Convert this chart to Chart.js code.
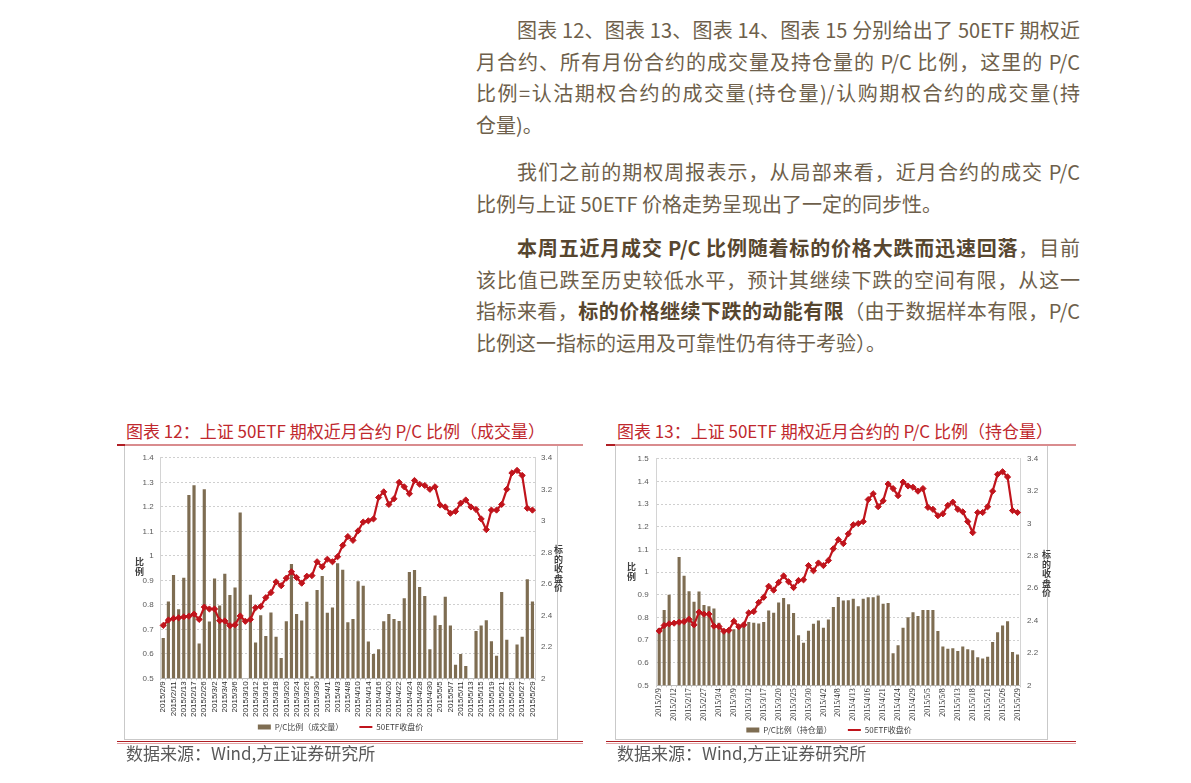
<!DOCTYPE html>
<html>
<head>
<meta charset="utf-8">
<script src="https://cdn.jsdelivr.net/npm/chart.js@4.4.1/dist/chart.umd.min.js"></script>
<style>
  body { margin: 0; background: #fff; width: 1191px; height: 783px; position: relative; overflow: hidden; font-family: "Noto Sans CJK SC", sans-serif; }
  .para { position: absolute; left: 476px; width: 604px; font-size: 20px; line-height: 31.5px; color: #6e5f4b; }
  .ln { text-align: justify; text-align-last: justify; }
  .ln.first { padding-left: 41px; }
  .ln.last { text-align-last: left; }
  .para b { color: #57462f; font-weight: 700; }
  .title { position: absolute; font-size: 17px; color: #c0282d; line-height: 20px; white-space: nowrap; }
  .src { position: absolute; font-size: 17px; color: #595959; line-height: 20px; white-space: nowrap; }
  .hline { position: absolute; height: 1px; }
  .frame { position: absolute; border: 1px solid #c9c9c9; box-sizing: border-box; }
  canvas { position: absolute; }
  .ytitle { position: absolute; width: 9px; font-size: 9px; line-height: 9.5px; font-weight: 700; color: #404040; word-break: break-all; }
</style>
</head>
<body>

<div class="para" style="top:14px">
  <div class="ln first">图表 12、图表 13、图表 14、图表 15 分别给出了 50ETF 期权近</div>
  <div class="ln">月合约、所有月份合约的成交量及持仓量的 P/C 比例，这里的 P/C</div>
  <div class="ln">比例=认沽期权合约的成交量(持仓量)/认购期权合约的成交量(持</div>
  <div class="ln last">仓量)。</div>
</div>
<div class="para" style="top:156px">
  <div class="ln first">我们之前的期权周报表示，从局部来看，近月合约的成交 P/C</div>
  <div class="ln last">比例与上证 50ETF 价格走势呈现出了一定的同步性。</div>
</div>
<div class="para" style="top:232px">
  <div class="ln first"><b>本周五近月成交 P/C 比例随着标的价格大跌而迅速回落</b>，目前</div>
  <div class="ln">该比值已跌至历史较低水平，预计其继续下跌的空间有限，从这一</div>
  <div class="ln">指标来看，<b>标的价格继续下跌的动能有限</b>（由于数据样本有限，P/C</div>
  <div class="ln last">比例这一指标的运用及可靠性仍有待于考验）。</div>
</div>

<div class="title" style="left:126px;top:421px">图表 12：上证 50ETF 期权近月合约 P/C 比例（成交量）</div>
<div class="title" style="left:617px;top:421px">图表 13：上证 50ETF 期权近月合约的 P/C 比例（持仓量）</div>

<div class="frame" style="left:124px;top:445px;width:434px;height:295px"></div>
<div class="frame" style="left:615px;top:445px;width:433px;height:295px"></div>

<div class="hline" style="left:117px;top:444px;width:466px;height:2px;background:#d98c8e"></div>
<div class="hline" style="left:117px;top:444px;width:8px;height:2px;background:#b01e24"></div>
<div class="hline" style="left:606px;top:444px;width:470px;height:2px;background:#d98c8e"></div>
<div class="hline" style="left:606px;top:444px;width:9px;height:2px;background:#b01e24"></div>

<canvas id="chart12" width="431" height="295" style="left:125px;top:446px"></canvas>
<canvas id="chart13" width="434" height="298" style="left:612px;top:446px"></canvas>

<div class="ytitle" style="left:135px;top:557px">比例</div>
<div class="ytitle" style="left:554px;top:545px">标的收盘价</div>
<div class="ytitle" style="left:627px;top:562px">比例</div>
<div class="ytitle" style="left:1042px;top:550px">标的收盘价</div>

<div class="hline" style="left:117px;top:741px;width:466px;background:#b01e24"></div>
<div class="hline" style="left:117px;top:743px;width:466px;background:#e3a5a7"></div>
<div class="hline" style="left:606px;top:741px;width:470px;background:#b01e24"></div>
<div class="hline" style="left:606px;top:743px;width:470px;background:#e3a5a7"></div>

<div class="src" style="left:126px;top:743px">数据来源：Wind,方正证券研究所</div>
<div class="src" style="left:617px;top:743px">数据来源：Wind,方正证券研究所</div>

<script>
const dates = [
  "2015/2/9", "2015/2/10", "2015/2/11", "2015/2/12", "2015/2/13", "2015/2/16", "2015/2/17",
  "2015/2/25", "2015/2/26", "2015/2/27",
  "2015/3/2", "2015/3/3", "2015/3/4", "2015/3/5", "2015/3/6", "2015/3/9", "2015/3/10",
  "2015/3/11", "2015/3/12", "2015/3/13", "2015/3/16", "2015/3/17", "2015/3/18", "2015/3/19",
  "2015/3/20", "2015/3/23", "2015/3/24", "2015/3/25", "2015/3/26", "2015/3/27", "2015/3/30",
  "2015/3/31",
  "2015/4/1", "2015/4/2", "2015/4/3", "2015/4/7", "2015/4/8", "2015/4/9", "2015/4/10",
  "2015/4/13", "2015/4/14", "2015/4/15", "2015/4/16", "2015/4/17", "2015/4/20", "2015/4/21",
  "2015/4/22", "2015/4/23", "2015/4/24", "2015/4/27", "2015/4/28", "2015/4/29", "2015/4/30",
  "2015/5/4", "2015/5/5", "2015/5/6", "2015/5/7", "2015/5/8", "2015/5/11", "2015/5/12",
  "2015/5/13", "2015/5/14", "2015/5/15", "2015/5/18", "2015/5/19", "2015/5/20", "2015/5/21",
  "2015/5/22", "2015/5/25", "2015/5/26", "2015/5/27", "2015/5/28", "2015/5/29"
];

// 50ETF close (right axis)
const closes = [
  2.336, 2.37, 2.38, 2.384, 2.39, 2.394, 2.408, 2.374, 2.452, 2.44,
  2.44, 2.366, 2.364, 2.334, 2.34, 2.396, 2.362, 2.374, 2.448, 2.456,
  2.512, 2.544, 2.612, 2.588, 2.636, 2.676, 2.64, 2.604, 2.648, 2.652,
  2.74, 2.708, 2.756, 2.74, 2.772, 2.844, 2.9, 2.876, 2.936, 2.992,
  3.0, 3.012, 3.148, 3.184, 3.104, 3.14, 3.244, 3.216, 3.172, 3.256,
  3.232, 3.224, 3.2, 3.216, 3.1, 3.088, 3.048, 3.06, 3.112, 3.132,
  3.088, 3.072, 3.012, 2.944, 3.068, 3.068, 3.104, 3.2, 3.304, 3.32,
  3.288, 3.08, 3.068
];

// P/C ratio, near-month volume
const pcVolume = [
  0.665, 0.813, 0.922, 0.782, 0.91, 1.248, 1.288, 0.642, 1.272, 0.732,
  0.907, 0.797, 0.927, 0.84, 0.871, 1.177, null, 0.841, 0.646, 0.757,
  0.673, 0.769, 0.67, 0.583, 0.733, 0.967, 0.762, 0.736, 0.812, 0.508,
  0.86, 0.918, 0.768, 0.789, 0.97, 0.943, 0.729, 0.742, 0.896, 0.878,
  0.65, 0.599, 0.619, 0.733, 0.762, 0.742, 0.734, 0.827, 0.934, 0.942,
  0.873, 0.836, 0.619, 0.756, 0.718, 0.833, 0.716, 0.555, 0.599, 0.55,
  null, 0.693, 0.716, 0.737, 0.651, 0.592, 0.852, 0.657, null, 0.638,
  0.67, 0.904, 0.813
];

// P/C ratio, near-month open interest
const pcOpenInt = [
  0.753, 0.833, 0.9, null, 1.066, 0.984, 0.915, 0.869, 0.914, 0.855,
  0.849, 0.839, 0.776, 0.747, 0.74, 0.747, 0.754, 0.776, 0.78, 0.776,
  0.773, 0.779, 0.83, 0.82, 0.866, 0.885, 0.858, 0.819, 0.721, 0.688,
  0.741, 0.772, 0.786, 0.754, 0.79, 0.846, 0.89, 0.874, 0.876, 0.882,
  0.849, 0.882, 0.889, 0.889, 0.897, 0.86, 0.863, 0.641, 0.677, 0.754,
  0.8, 0.823, 0.806, 0.832, 0.832, 0.832, 0.74, 0.671, 0.661, 0.664,
  0.651, 0.671, 0.659, 0.655, 0.624, 0.618, 0.626, 0.691, 0.734, 0.764,
  0.783, 0.647, 0.636
];

const BAR_COLOR = "#7e6d52";
const LINE_COLOR = "#c0141c";

function buildChart(id, cfg) {
  return new Chart(document.getElementById(id), {
    data: {
      labels: dates,
      datasets: [
        {
          type: "bar",
          label: cfg.barLabel,
          data: cfg.bars,
          yAxisID: "y",
          backgroundColor: BAR_COLOR,
          barPercentage: 0.62,
          categoryPercentage: 1,
          order: 2,
        },
        {
          type: "line",
          label: "50ETF收盘价",
          data: closes,
          yAxisID: "y1",
          borderColor: LINE_COLOR,
          backgroundColor: LINE_COLOR,
          borderWidth: 2.2,
          pointStyle: "rectRot",
          pointRadius: 3.1,
          pointBorderWidth: 1,
          tension: 0,
          order: 1,
        },
      ],
    },
    options: {
      responsive: false,
      animation: false,
      layout: { padding: { top: cfg.padTop, left: 0, right: 0, bottom: 0 } },
      plugins: {
        tooltip: { enabled: false },
        legend: {
          position: "bottom",
          labels: {
            usePointStyle: true,
            pointStyleWidth: 13,
            boxHeight: 5,
            padding: 4,
            color: "#404040",
            font: { size: 8, family: "Noto Sans CJK SC" },
            generateLabels: (chart) => {
              const items = Chart.defaults.plugins.legend.labels.generateLabels(chart);
              items.sort((a, b) => a.datasetIndex - b.datasetIndex);
              items.forEach((it) => {
                if (it.datasetIndex === 1) {
                  it.pointStyle = "line";
                  it.lineWidth = 2;
                  it.strokeStyle = LINE_COLOR;
                } else {
                  it.pointStyle = "rect";
                  it.lineWidth = 0;
                  it.text = it.text + "\u3000\u3000";
                }
              });
              return items;
            },
          },
        },
      },
      scales: {
        x: {
          offset: true,
          grid: { display: true, drawOnChartArea: false, tickLength: 2, color: "#c8c8c8" },
          border: { color: "#bfbfbf" },
          ticks: {
            autoSkip: false,
            minRotation: 90,
            maxRotation: 90,
            padding: 1,
            color: "#2b2b2b",
            font: cfg.xFont,
            callback: (v, i) => (i % cfg.step === 0 ? dates[i] : ""),
          },
          afterFit: (s) => { s.height = cfg.xHeight; },
        },
        y: {
          position: "left",
          min: 0.5,
          max: cfg.leftMax,
          ticks: {
            stepSize: 0.1,
            padding: cfg.leftPad,
            color: "#595959",
            font: { size: 8, family: "Liberation Sans" },
            callback: (v) => +v.toFixed(1),
          },
          grid: { color: "#cfcfcf", drawTicks: false },
          border: { color: "#d4d4d4", dash: [2, 2] },
          afterFit: (s) => { s.width = cfg.leftW; },
        },
        y1: {
          position: "right",
          min: 2,
          max: 3.4,
          ticks: {
            stepSize: 0.2,
            padding: cfg.rightPad,
            color: "#595959",
            font: { size: 8, family: "Liberation Sans" },
            callback: (v) => +v.toFixed(1),
          },
          grid: { display: false, drawTicks: false },
          border: { color: "#d4d4d4" },
          afterFit: (s) => { s.width = cfg.rightW; },
        },
      },
    },
  });
}

buildChart("chart12", {
  barLabel: "P/C比例（成交量）",
  bars: pcVolume,
  leftMax: 1.4,
  step: 2,
  padTop: 8,
  leftW: 35.7,
  rightW: 21,
  leftPad: 7,
  rightPad: 6,
  xHeight: 40.7,
  xFont: { size: 8, family: "Liberation Sans" },
});

buildChart("chart13", {
  barLabel: "P/C比例（持仓量）",
  bars: pcOpenInt,
  leftMax: 1.5,
  step: 3,
  padTop: 7.3,
  leftW: 44.7,
  rightW: 26,
  leftPad: 8,
  rightPad: 7,
  xHeight: 36.7,
  xFont: { size: 8, family: "Liberation Serif" },
});
</script>
</body>
</html>
